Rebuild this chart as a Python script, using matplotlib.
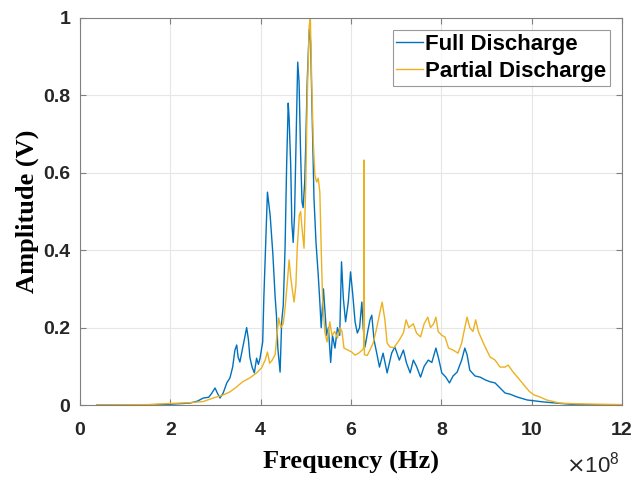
import matplotlib
matplotlib.use("Agg")
import matplotlib.pyplot as plt
import numpy as np

# Frequencies in units of 1e8 Hz, amplitudes in V
full_f = [0.37, 1.5, 2.0, 2.435, 2.6, 2.73, 2.85, 2.915, 2.99, 3.04, 3.10, 3.17, 3.25, 3.32,
          3.38, 3.43, 3.47, 3.50, 3.54, 3.60, 3.65, 3.69, 3.73, 3.76, 3.81, 3.86, 3.91, 3.95,
          3.985, 4.045, 4.07, 4.12, 4.15, 4.17, 4.21, 4.27, 4.32, 4.35, 4.38, 4.43, 4.465,
          4.50, 4.54, 4.575, 4.61, 4.63, 4.665, 4.69, 4.72, 4.75, 4.78, 4.82, 4.85, 4.885,
          4.915, 4.94, 4.975, 5.00, 5.03, 5.075, 5.105, 5.14, 5.18, 5.225, 5.275, 5.31, 5.34,
          5.39, 5.42, 5.46, 5.50, 5.55, 5.59, 5.645, 5.70, 5.75, 5.79, 5.83, 5.88, 5.94, 5.99,
          6.04, 6.09, 6.14, 6.19, 6.24, 6.27, 6.31, 6.37, 6.42, 6.46, 6.51, 6.57, 6.63, 6.71,
          6.80, 6.90, 6.97, 7.07, 7.16, 7.23, 7.31, 7.38, 7.45, 7.54, 7.62, 7.71, 7.79, 7.88,
          7.94, 8.01, 8.10, 8.18, 8.26, 8.35, 8.45, 8.52, 8.57, 8.63, 8.745, 8.86, 8.97, 9.08,
          9.19, 9.30, 9.41, 9.52, 9.67, 9.90, 10.25, 10.56, 10.85, 11.18, 12.0]
full_a = [0.0, 0.0005, 0.002, 0.005, 0.01, 0.018, 0.02, 0.03, 0.044, 0.031, 0.018, 0.031, 0.057, 0.07,
          0.098, 0.142, 0.155, 0.124, 0.111, 0.147, 0.176, 0.2, 0.168, 0.124, 0.098, 0.083, 0.121, 0.105,
          0.12, 0.163, 0.276, 0.447, 0.55, 0.53, 0.49, 0.39, 0.28, 0.23, 0.147, 0.085, 0.215,
          0.258, 0.405, 0.62, 0.78, 0.74, 0.62, 0.47, 0.42, 0.49, 0.66, 0.886, 0.835, 0.646,
          0.525, 0.51, 0.576, 0.68, 0.835, 0.97, 0.94, 0.75, 0.535, 0.42, 0.335, 0.266, 0.2,
          0.3, 0.25, 0.18, 0.2, 0.11, 0.18, 0.147, 0.2, 0.18, 0.37, 0.276, 0.215, 0.266, 0.344,
          0.284, 0.215, 0.186, 0.2, 0.266, 0.2, 0.15, 0.19, 0.22, 0.232, 0.168, 0.134, 0.098, 0.134,
          0.083, 0.134, 0.15, 0.116, 0.142, 0.108, 0.083, 0.116, 0.1, 0.072, 0.1, 0.116, 0.11, 0.147,
          0.12, 0.083, 0.072, 0.057, 0.075, 0.085, 0.116, 0.147, 0.13, 0.09, 0.075, 0.072, 0.065, 0.06,
          0.057, 0.044, 0.031, 0.028, 0.021, 0.013, 0.008, 0.005, 0.002, 0.001, 0.0]

part_f = [0.37, 1.5, 2.0, 2.435, 2.73, 2.95, 3.17, 3.32, 3.47, 3.60, 3.76, 3.91, 4.02, 4.10,
          4.15, 4.20, 4.25, 4.32, 4.36, 4.40, 4.445, 4.50, 4.54, 4.59, 4.63, 4.665, 4.71, 4.74,
          4.78, 4.81, 4.855, 4.885, 4.915, 4.96, 5.0, 5.03, 5.075, 5.10, 5.13, 5.165, 5.20, 5.24,
          5.275, 5.31, 5.34, 5.37, 5.42, 5.47, 5.53, 5.58, 5.64, 5.70, 5.76, 5.80, 5.845, 5.93,
          6.015, 6.09, 6.17, 6.26, 6.283, 6.29, 6.297, 6.36, 6.42, 6.49, 6.56, 6.65, 6.69, 6.75,
          6.80, 6.86, 6.95, 7.07, 7.16, 7.22, 7.28, 7.38, 7.45, 7.54, 7.62, 7.70, 7.76, 7.83, 7.88,
          7.93, 8.01, 8.08, 8.16, 8.26, 8.37, 8.45, 8.52, 8.57, 8.63, 8.70, 8.76, 8.82, 8.90, 8.97,
          9.08, 9.19, 9.30, 9.41, 9.48, 9.59, 9.70, 9.84, 9.95, 10.05, 10.18, 10.33, 10.62, 11.0, 12.0]
part_a = [0.0, 0.001, 0.004, 0.006, 0.009, 0.018, 0.026, 0.034, 0.047, 0.06, 0.07, 0.083, 0.096, 0.116,
          0.137, 0.108, 0.115, 0.13, 0.18, 0.225, 0.2, 0.21, 0.25, 0.317, 0.375, 0.33, 0.29, 0.266,
          0.31, 0.405, 0.49, 0.5, 0.457, 0.405, 0.576, 0.79, 0.98, 1.0, 0.835, 0.68, 0.594, 0.576,
          0.586, 0.55, 0.405, 0.276, 0.19, 0.163, 0.215, 0.18, 0.19, 0.173, 0.2, 0.19, 0.147, 0.142,
          0.137, 0.129, 0.134, 0.143, 0.15, 0.633, 0.13, 0.128, 0.142, 0.16, 0.194, 0.245, 0.266, 0.22,
          0.16, 0.15, 0.148, 0.168, 0.186, 0.22, 0.2, 0.21, 0.186, 0.176, 0.21, 0.227, 0.2, 0.21, 0.227,
          0.19, 0.18, 0.176, 0.147, 0.142, 0.134, 0.16, 0.2, 0.227, 0.2, 0.19, 0.22, 0.19, 0.168, 0.15,
          0.124, 0.116, 0.098, 0.098, 0.103, 0.085, 0.07, 0.05, 0.035, 0.026, 0.021, 0.013, 0.005, 0.003, 0.001]

x_ticks = [0, 2, 4, 6, 8, 10, 12]
y_ticks = [0, 0.2, 0.4, 0.6, 0.8, 1]
y_tick_labels = ["0", "0.2", "0.4", "0.6", "0.8", "1"]
scale = 1e8

fig = plt.figure(figsize=(6.38, 4.8), dpi=100)
ax = fig.add_axes([80/638, 1 - 405/480, 542/638, 387/480])

ax.plot(np.array(full_f) * scale, full_a, color="#0072BD", lw=1.0, label="Full Discharge")
ax.plot(np.array(part_f) * scale, part_a, color="#EDB120", lw=1.0, label="Partial Discharge")

ax.set_xlim(0, 12 * scale)
ax.set_ylim(0, 1)
ax.set_xticks([t * scale for t in x_ticks])
ax.set_xticklabels([str(t) for t in x_ticks])
ax.set_yticks(y_ticks)
ax.set_yticklabels(y_tick_labels)

for lab in ax.get_xticklabels() + ax.get_yticklabels():
    lab.set_fontfamily("Liberation Sans")
    lab.set_fontweight("bold")
    lab.set_fontsize(14)
    lab.set_color("#262626")

ax.grid(True, color="#e6e6e6", lw=0.8)
ax.set_axisbelow(True)
for s in ax.spines.values():
    s.set_color("#808080")
    s.set_linewidth(0.8)
ax.tick_params(direction="in", length=4, width=0.8, color="#808080",
               top=True, right=True)
ax.tick_params(axis="x", pad=12)
ax.tick_params(axis="y", pad=7)

ax.set_xlabel("Frequency (Hz)", fontfamily="Liberation Serif", fontweight="bold", fontsize=19, labelpad=9)
ax.set_ylabel("Amplitude (V)", fontfamily="Liberation Serif", fontweight="bold", fontsize=19, labelpad=3)

fig.text(593/638, 1 - 465/480, r"$\times\mathregular{10^{8}}$", ha="center", va="center",
         fontfamily="Liberation Sans", fontsize=16, color="#262626")

leg = ax.legend(loc="upper right", prop=dict(family="Liberation Sans", weight="bold", size=16),
                frameon=True, fancybox=False, edgecolor="#808080", handlelength=1.2,
                handletextpad=0.1, borderpad=0.15, borderaxespad=0.55, labelspacing=0.3)
leg.get_frame().set_linewidth(0.8)

fig.savefig("out.png", dpi=100)
